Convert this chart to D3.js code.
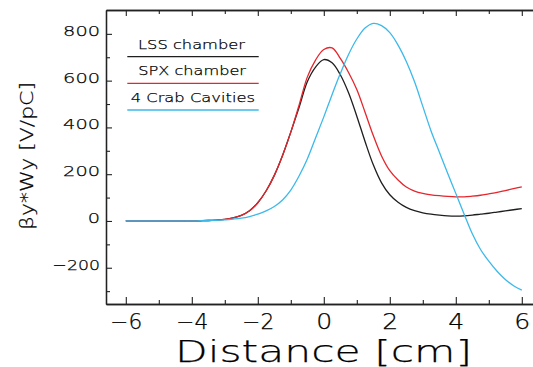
<!DOCTYPE html>
<html><head><meta charset="utf-8">
<script src="https://cdn.jsdelivr.net/npm/d3@7"></script>
<style>
html,body{margin:0;padding:0;background:#fff;}
svg text{font-family:"DejaVu Sans ExtraLight","DejaVu Sans",sans-serif;font-weight:200;fill:#000;stroke:#000;stroke-width:0.25px;}
</style></head>
<body><svg id="c" width="533" height="367"></svg>
<script>
const distance = [-6,-5.75,-5.5,-5.25,-5,-4.75,-4.5,-4.25,-4,-3.75,-3.5,-3.25,-3,-2.75,-2.5,-2.25,-2,-1.75,-1.5,-1.25,-1,-0.75,-0.5,-0.25,0,0.25,0.5,0.75,1,1.25,1.5,1.75,2,2.25,2.5,2.75,3,3.25,3.5,3.75,4,4.25,4.5,4.75,5,5.25,5.5,5.75,6];
const lssChamber = [0,0,0,0,0,0,0,0,0,1,2,4,7,13,24,44,78,128,195,280,380,485,595,658,690,676,625,548,448,340,240,163,112,80,58,44,35,29,25,22,21,22,25,29,33,38,43,48,53];
const spxChamber = [0,0,0,0,0,0,0,0,0,1,2,4,7,13,24,44,78,128,195,280,380,495,615,688,733,740,695,635,562,465,365,278,215,175,145,128,118,112,108,105,103,103,106,110,116,122,130,138,146];
const crabCavities = [0,0,0,0,0,0,0,0,0,1,2,3,5,8,12,19,29,43,62,90,132,192,265,355,445,540,630,712,778,825,845,835,805,752,682,595,490,385,295,205,118,30,-55,-122,-172,-215,-250,-277,-296];
const seriesNames = ["LSS chamber","SPX chamber","4 Crab Cavities"];
const seriesColors = ["#1e1e1e","#e5262d","#3cb9ea"];
const xTickLabels = [-6,-4,-2,0,2,4,6];
const yTickLabels = [-200,0,200,400,600,800];
const xMinor = [-5,-3,-1,1,3,5];
const yMinor = [-300,-100,100,300,500,700];

const svg = d3.select("#c");
const x = d3.scaleLinear().domain([-6.6, 6.4]).range([106, 535]);
const y = d3.scaleLinear().domain([-355, 902]).range([304, 10]);
const fmt = v => (v < 0 ? "\u2212" + Math.abs(v) : String(v));

function stretch(sel, perChar, minusW) {
  sel.each(function() {
    const t = this.textContent;
    let L = 0;
    for (const ch of t) L += (ch === "\u2212") ? minusW : (ch === " " ? perChar*0.6 : perChar);
    d3.select(this).attr("textLength", L).attr("lengthAdjust", "spacingAndGlyphs");
  });
}

// bottom axis
const gB = svg.append("g").attr("transform", `translate(0,${y.range()[0]})`);
gB.call(d3.axisBottom(x).tickValues(xTickLabels).tickSizeInner(-7).tickSizeOuter(0).tickPadding(5).tickFormat(fmt));
gB.append("g").call(d3.axisBottom(x).tickValues(xMinor).tickSizeInner(-4).tickSizeOuter(0).tickFormat(""));
// top axis
const gT = svg.append("g").attr("transform", `translate(0,${y.range()[1]})`);
gT.call(d3.axisTop(x).tickValues(xTickLabels).tickSizeInner(-6).tickSizeOuter(0).tickFormat(""));
gT.append("g").call(d3.axisTop(x).tickValues(xMinor).tickSizeInner(-4).tickSizeOuter(0).tickFormat(""));
// left axis
const gL = svg.append("g").attr("transform", `translate(${x.range()[0]},0)`);
gL.call(d3.axisLeft(y).tickValues(yTickLabels).tickSizeInner(-6).tickSizeOuter(0).tickPadding(6).tickFormat(fmt));
gL.append("g").call(d3.axisLeft(y).tickValues(yMinor).tickSizeInner(-4).tickSizeOuter(0).tickFormat(""));

svg.selectAll(".domain").attr("stroke", "#222").attr("stroke-width", 1.3);
svg.selectAll(".tick line").attr("stroke", "#222").attr("stroke-width", 1.1);

gB.selectAll(".tick text").attr("font-size", 21).attr("dy", "0").attr("y", 25)
  .style("font-family", "'DejaVu Sans ExtraLight','DejaVu Sans',sans-serif").attr("fill", "#000")
  .call(stretch, 16, 16);
gL.selectAll(".tick text").attr("font-size", 14).attr("dy", "1.5")
  .style("font-family", "'DejaVu Sans ExtraLight','DejaVu Sans',sans-serif").attr("fill", "#000")
  .call(stretch, 12.3, 10.5);

// curves
const series = [lssChamber, spxChamber, crabCavities];
const line = d3.line().x((d, i) => x(distance[i])).y(d => y(d)).curve(d3.curveCatmullRom.alpha(0.5));
series.forEach((s, k) => {
  svg.append("path").datum(s).attr("d", line).attr("fill", "none")
    .attr("stroke", seriesColors[k]).attr("stroke-width", 1.3);
});

// legend
const legTextX = [138, 138.3, 130.7];
const legTextBase = [49.3, 75, 101.7];
const legTextLen = [107, 107.7, 124.3];
const legLineY = [56.7, 83.3, 110];
seriesNames.forEach((n, k) => {
  svg.append("text").attr("x", legTextX[k]).attr("y", legTextBase[k]).attr("font-size", 13)
    .attr("textLength", legTextLen[k]).attr("lengthAdjust", "spacingAndGlyphs").text(n);
  svg.append("line").attr("x1", 127.3).attr("x2", 258.7).attr("y1", legLineY[k]).attr("y2", legLineY[k])
    .attr("stroke", seriesColors[k]).attr("stroke-width", 1.3);
});

// axis titles
svg.append("text").attr("x", 175).attr("y", 361.5).attr("font-size", 31)
  .attr("textLength", 297).attr("lengthAdjust", "spacingAndGlyphs").text("Distance [cm]");
svg.append("text").attr("transform", "translate(33.3,230) rotate(-90)").attr("font-size", 17.5)
  .attr("textLength", 148).attr("lengthAdjust", "spacingAndGlyphs").text("\u03B2y*Wy [V/pC]");
</script></body></html>
